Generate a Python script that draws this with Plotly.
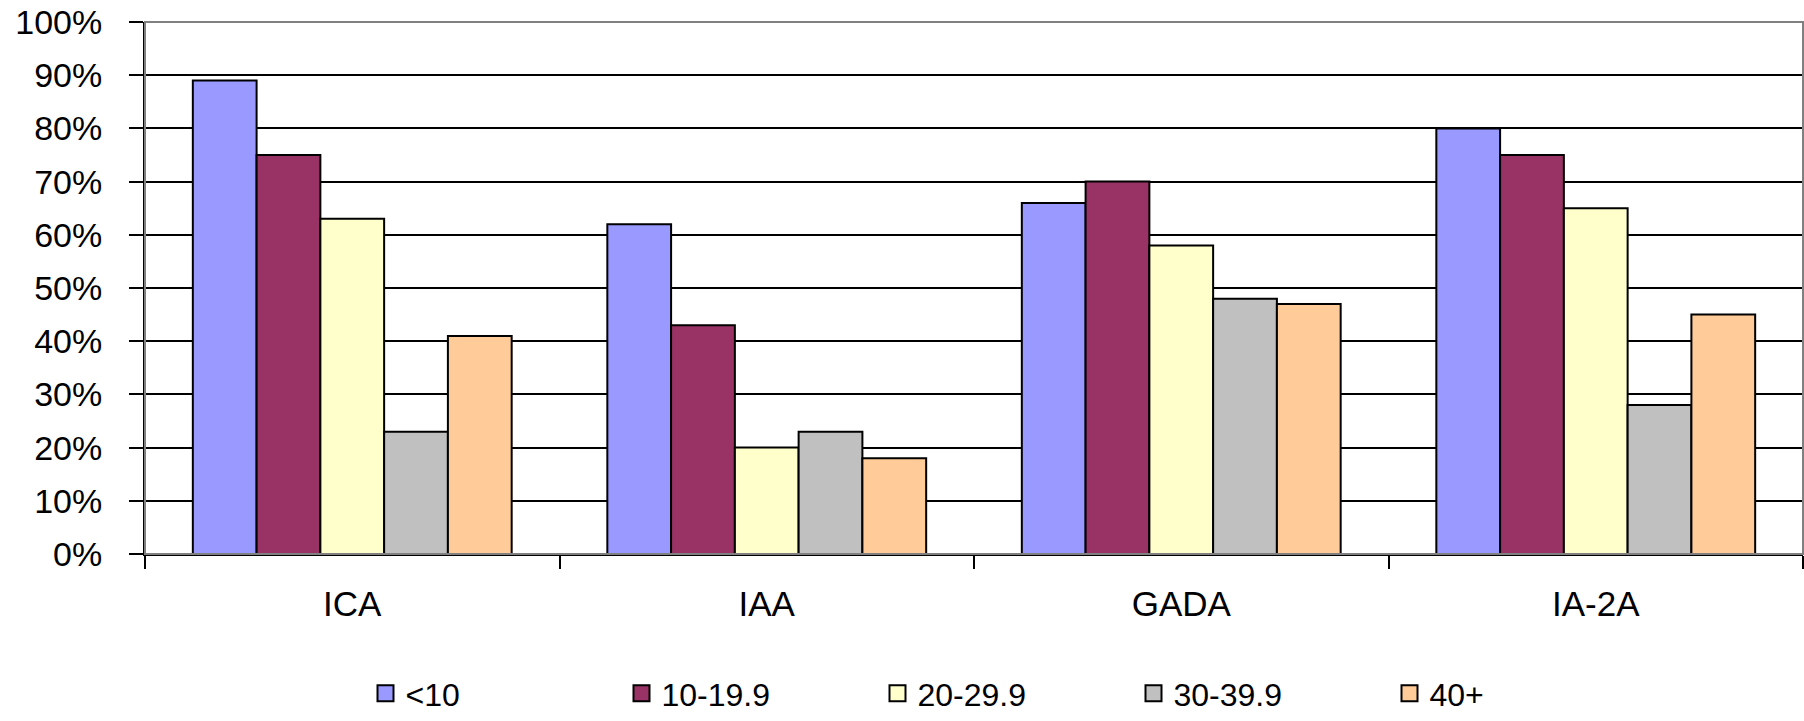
import plotly.graph_objects as go

# Autoantibody prevalence by age group at diagnosis
categories = ["ICA", "IAA", "GADA", "IA-2A"]
age_groups = ["<10", "10-19.9", "20-29.9", "30-39.9", "40+"]
values = {
    "<10":     [89, 62, 66, 80],
    "10-19.9": [75, 43, 70, 75],
    "20-29.9": [63, 20, 58, 65],
    "30-39.9": [23, 23, 48, 28],
    "40+":     [41, 18, 47, 45],
}
colors = ["#9999FF", "#993366", "#FFFFCC", "#C0C0C0", "#FFCC99"]
y_ticks = [0, 10, 20, 30, 40, 50, 60, 70, 80, 90, 100]
y_tick_labels = [f"{v}%" for v in y_ticks]

FONT = "Liberation Sans, Arial, sans-serif"

fig = go.Figure()
for name, color in zip(age_groups, colors):
    fig.add_trace(go.Bar(
        x=categories, y=values[name], name=name,
        marker=dict(color=color, line=dict(color="black", width=2)),
        legendgroup=name, showlegend=False,
    ))
    # larger square swatch for the legend entry
    fig.add_trace(go.Scatter(
        x=[None], y=[None], mode="markers", name=name,
        marker=dict(symbol="square", size=16, color=color,
                    line=dict(color="black", width=2)),
        legendgroup=name, showlegend=True, hoverinfo="skip",
    ))

fig.update_layout(
    width=1804, height=721,
    margin=dict(l=145, r=1, t=22, b=167, autoexpand=False),
    paper_bgcolor="white", plot_bgcolor="white",
    font=dict(family=FONT, size=34, color="black"),
    barmode="group", bargap=0.2308, bargroupgap=0,
    showlegend=True,
    legend=dict(
        orientation="h", x=0.519, xanchor="center",
        yref="container", y=0, yanchor="bottom",
        font=dict(family=FONT, size=32), itemsizing="trace",
        traceorder="normal", entrywidth=211, entrywidthmode="pixels", itemwidth=30,
    ),
    shapes=[dict(type="rect", xref="paper", yref="paper", x0=0, x1=1, y0=0, y1=1,
                 line=dict(color="#808080", width=2), layer="above")],
)

fig.update_xaxes(
    showgrid=False, showline=True, linecolor="black", linewidth=2,
    ticks="outside", tickson="boundaries", ticklen=13, tickwidth=2, tickcolor="black",
    ticklabelstandoff=18, tickfont=dict(size=35),
)
fig.update_yaxes(
    range=[0, 100], tickvals=y_ticks, ticktext=y_tick_labels,
    showgrid=True, gridcolor="black", gridwidth=2, zeroline=False,
    showline=True, linecolor="black", linewidth=2,
    ticks="outside", ticklen=14, tickwidth=2, tickcolor="black",
    ticklabelstandoff=20, tickfont=dict(size=34),
)

fig.write_html("out.html")
